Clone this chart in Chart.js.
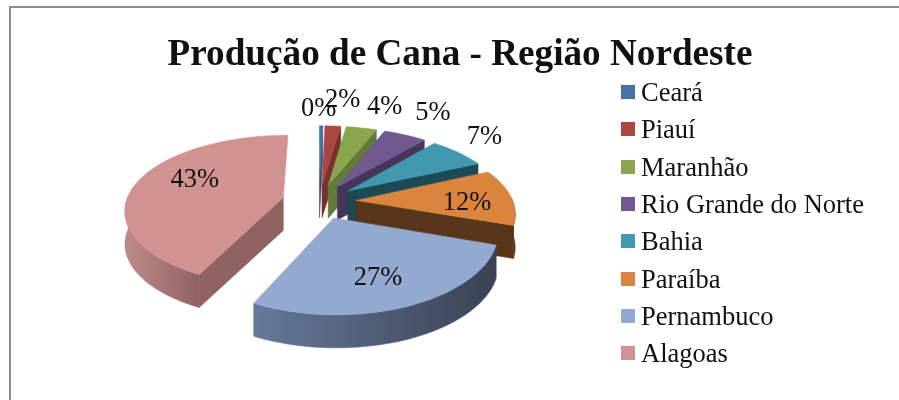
<!DOCTYPE html>
<html>
<head>
<meta charset="utf-8">
<script src="https://cdn.jsdelivr.net/npm/chart.js@4/dist/chart.umd.min.js"></script>
<style>
    html, body { margin: 0; background: #fff; overflow: hidden; }
    #frame { position: absolute; left: 9px; top: 6px; width: 900px; height: 400px; border: 2px solid #8c8c8c; }
    #wrap { position: absolute; left: 21px; top: 0; width: 878px; height: 400px; }
    #legend { position: absolute; left: 621px; top: 74px; margin: 0; padding: 0; list-style: none;
        font: 26.5px "Liberation Serif", serif; color: #111; }
    #legend li { height: 37.35px; line-height: 37.35px; white-space: nowrap; }
    #legend i { display: inline-block; position: relative; top: -2px; width: 14px; height: 14px; margin-right: 6px; }
</style>
</head>
<body>
<div id="frame"></div>
<div id="wrap"><canvas id="pieChart"></canvas></div>
<ul id="legend"></ul>
<script>
const estados = ['Ceará', 'Piauí', 'Maranhão', 'Rio Grande do Norte', 'Bahia', 'Paraíba', 'Pernambuco', 'Alagoas'];
const producao = [0.4, 1.9, 3.7, 5.2, 7, 12, 27, 42.8];
const coresLegenda = ['#4572A7', '#AA4643', '#89A54E', '#71588F', '#4198AF', '#DB843D', '#93A9CF', '#D19392'];
const coresParede = ['#2f4e73', '#7a3230', '#647A3A', '#46365c', '#1C4A55', '#59351A', '#3A4254', '#8f6362'];
const coresParedeClara = ['#4572A7', '#AA4643', '#89A54E', '#71588F', '#4198AF', '#59351A', '#66799A', '#BC8887'];
// distance of each % label from the slice tip, in pie radii, plus a small nudge in px
const raioRotulo = [1.45, 1.66, 1.6, 1.6, 1.42, 0.69, 0.7, 0.6];
const ajusteRotuloX = [-3, 4, 7, -6, -15, 4, -6, 0];
const ajusteRotuloY = [5, 4, 7, 4, -1, 5, 2, -8];

// fake 3D view of the pie; desvioX moves it left of the title centre, room for the legend
const vista = { rx: 157, ry: 74, perspX: 0.15, perspY: 0.17, altura: 33, desvioX: -141 };

function projetar(arc, u, v, z) {
    const fx = 1 / (1 - vista.perspX * v);
    const fy = 1 / (1 - vista.perspY * v);
    return { x: arc.x + vista.desvioX + vista.rx * u * fx, y: arc.y + vista.ry * v * fy + z * vista.altura };
}

function pontoFatia(arc, explode, meio, ang, r) {
    return [explode * Math.sin(meio) + r * Math.sin(ang), -explode * Math.cos(meio) - r * Math.cos(ang)];
}

function preencher(ctx, pontos, cor) {
    ctx.beginPath();
    pontos.forEach((p, i) => i ? ctx.lineTo(p.x, p.y) : ctx.moveTo(p.x, p.y));
    ctx.closePath();
    ctx.fillStyle = cor;
    ctx.strokeStyle = cor;
    ctx.lineWidth = 0.5;
    ctx.fill();
    ctx.stroke();
}

const pizza3d = {
    id: 'pizza3d',
    beforeDatasetDraw(chart, args) {
        const ctx = chart.ctx;
        const fatias = args.meta.data.map((arc, i) => ({ arc, i }));
        const giro = a => a + Math.PI / 2;
        fatias.sort((a, b) => {
            const ma = (giro(a.arc.startAngle) + giro(a.arc.endAngle)) / 2;
            const mb = (giro(b.arc.startAngle) + giro(b.arc.endAngle)) / 2;
            return Math.cos(mb) - Math.cos(ma);
        });
        fatias.forEach(({ arc, i }) => {
            const ini = giro(arc.startAngle), fim = giro(arc.endAngle), meio = (ini + fim) / 2;
            const explode = arc.options.offset / arc.outerRadius;
            const p = (ang, r, z) => {
                const [u, v] = pontoFatia(arc, explode, meio, ang, r);
                return projetar(arc, u, v, z);
            };
            const passos = Math.max(2, Math.ceil((fim - ini) * 40));
            const borda = [];
            for (let k = 0; k <= passos; k++) borda.push(ini + (fim - ini) * k / passos);

            // straight walls, only when they face the viewer
            if (Math.sin(ini) < -1e-6) {
                preencher(ctx, [p(0, 0, 0), p(ini, 1, 0), p(ini, 1, 1), p(0, 0, 1)], coresParede[i]);
            }
            if (Math.sin(fim) > 1e-6) {
                preencher(ctx, [p(0, 0, 0), p(fim, 1, 0), p(fim, 1, 1), p(0, 0, 1)], coresParede[i]);
            }

            // rounded outer wall, only the part that faces the viewer
            const frente = borda.filter(a => Math.cos(a) < 0.05);
            if (frente.length > 1) {
                const a = p(frente[0], 1, 0), b = p(frente[frente.length - 1], 1, 0);
                const grad = ctx.createLinearGradient(Math.min(a.x, b.x), 0, Math.max(a.x, b.x), 0);
                grad.addColorStop(0, coresParedeClara[i]);
                grad.addColorStop(1, coresParede[i]);
                const cima = frente.map(ang => p(ang, 1, 0));
                const baixo = frente.map(ang => p(ang, 1, 1)).reverse();
                preencher(ctx, cima.concat(baixo), grad);
            }

            // top face
            preencher(ctx, [p(0, 0, 0)].concat(borda.map(ang => p(ang, 1, 0))), coresLegenda[i]);
        });
        return false;
    },
    afterDatasetsDraw(chart) {
        const ctx = chart.ctx;
        const total = producao.reduce((s, v) => s + v, 0);
        ctx.font = '26.5px "Liberation Serif", serif';
        ctx.fillStyle = '#111';
        ctx.textAlign = 'center';
        ctx.textBaseline = 'middle';
        chart.getDatasetMeta(0).data.forEach((arc, i) => {
            const meio = (arc.startAngle + arc.endAngle) / 2 + Math.PI / 2;
            const explode = arc.options.offset / arc.outerRadius;
            const [u, v] = pontoFatia(arc, explode, meio, meio, raioRotulo[i]);
            const pos = projetar(arc, u, v, 0);
            ctx.fillText(Math.round(producao[i] / total * 100) + '%', pos.x + ajusteRotuloX[i], pos.y + ajusteRotuloY[i]);
        });
    },
};

const pieChart = new Chart(document.getElementById('pieChart').getContext('2d'), {
    type: 'pie',
    data: {
        labels: estados,
        datasets: [{
            data: producao,
            backgroundColor: coresLegenda,
            borderWidth: 0,
            offset: 26,
        }],
    },
    options: {
        responsive: true,
        maintainAspectRatio: false,
        animation: false,
        layout: { padding: { bottom: 75 } },
        plugins: {
            legend: { display: false },
            tooltip: { enabled: false },
            title: {
                display: true,
                text: 'Produção de Cana - Região Nordeste',
                color: '#111',
                font: { family: '"Liberation Serif", serif', size: 37.2, weight: 'bold' },
                padding: { top: 33, bottom: 0 },
            },
        },
    },
    plugins: [pizza3d],
});

// legend next to the canvas, small gap between box and text like the original
document.getElementById('legend').innerHTML = estados
    .map((nome, i) => `<li><i style="background:${coresLegenda[i]}"></i>${nome}</li>`)
    .join('');
</script>
</body>
</html>
